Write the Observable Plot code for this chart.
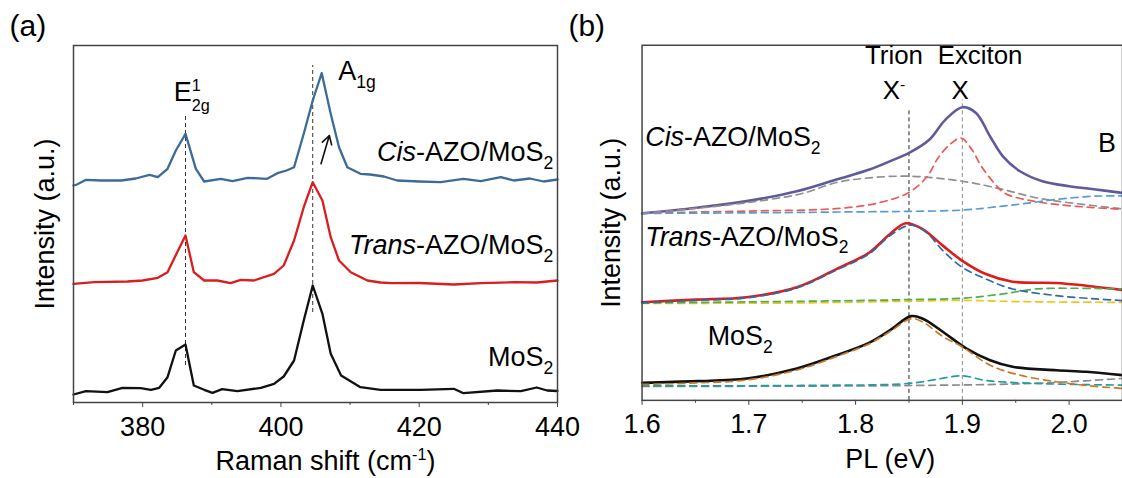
<!DOCTYPE html>
<html>
<head>
<meta charset="utf-8">
<script src="https://cdn.jsdelivr.net/npm/d3@7"></script>
<script src="https://cdn.jsdelivr.net/npm/@observablehq/plot@0.6"></script>
<style>
  html, body { margin: 0; padding: 0; background: #fff; }
  #wrap { position: relative; width: 1122px; height: 478px; overflow: hidden; background: #fff; }
  .panel { position: absolute; top: 0; }
</style>
</head>
<body>
<div id="wrap">
  <div class="panel" id="pa" style="left:0px"></div>
  <div class="panel" id="pb" style="left:560px"></div>
</div>
<script>
// ---------------- Panel (a): Raman ----------------
const ramanCisX = [370, 370.5, 371.8, 374, 376.9, 379, 381.0, 382.2, 383.6, 384.8, 386.2, 387.7, 388.9, 391.3, 393.0, 395.2, 398.0, 399.5, 400.8, 401.9, 403.3, 404.6, 405.9, 407.2, 408.4, 409.6, 411.5, 412.9, 414.9, 416.8, 420, 423.1, 426.4, 428.9, 431.8, 433.7, 436, 438, 440];
const ramanCisY = [217, 218, 222.7, 222, 222, 224, 227.7, 225.3, 233.7, 252, 268.7, 233.7, 221, 223.7, 221.3, 224.7, 223.7, 229.3, 232, 235.3, 268.7, 302, 329.3, 288.7, 255.3, 235.3, 228.7, 228, 226, 222, 221, 220.3, 223.7, 221.3, 225.3, 222, 224, 221, 223];

const ramanTransX = [370, 373, 377.8, 380, 382.2, 383.6, 385.0, 386.2, 387.4, 388.9, 390.8, 392.7, 394.2, 396.1, 399.0, 400.4, 401.9, 403.3, 404.6, 406.0, 407.2, 408.4, 410.1, 412.5, 414.4, 416, 420, 425, 428.9, 433.7, 437, 440];
const ramanTransY = [118.7, 120.3, 121, 122, 124.7, 130.3, 150.3, 167, 130.3, 122, 122, 119.3, 122.7, 122, 128.7, 137, 162, 195.3, 220.3, 202, 165.3, 142, 130.3, 122, 120, 119.3, 119.5, 118, 119.3, 120.3, 120, 122];

const ramanMoS2X = [370, 371.8, 374.9, 377.1, 379.7, 381.2, 382.4, 383.6, 384.8, 386.2, 387.4, 388.9, 390.1, 391.5, 393.7, 397.1, 399.0, 400.4, 401.9, 403.3, 404.6, 406.0, 407.2, 408.7, 411.5, 414.4, 420.2, 425.0, 426.4, 431.3, 434.7, 437, 438.5, 440];
const ramanMoS2Y = [8, 11.3, 10.3, 14.7, 14.3, 12.7, 14.7, 25.3, 52, 58, 17, 12.7, 9.7, 13.3, 11.3, 14.7, 18.7, 26, 42, 82, 117, 88.7, 48.7, 27, 15.3, 12.7, 12.7, 13.7, 9.3, 12, 11.3, 15, 12, 11.5];

const ramanGuideX = [386.2, 404.6];
const ramanGuideY1 = [37, 90];
const ramanGuideY2 = [289, 337];

const ramanSampleText = ["{i:Cis}-AZO/MoS{sub:2}", "{i:Trans}-AZO/MoS{sub:2}", "MoS{sub:2}"];
const ramanSampleX = [439.4, 439.4, 439.4];
const ramanSampleY = [250, 157, 45];

const ramanPeakText = ["E{sup:1}{bsub:2g}", "A{sub:1g}"];
const ramanPeakX = [384.5, 408.3];
const ramanPeakY = [310, 331];

const ramanArrow = {x1: 405.8, y1: 238.7, x2: 407.0, y2: 267};

const ramanMajorTicks = [380, 400, 420, 440];
const ramanMinorTicks = [370, 390, 410, 430];

// ---------------- Panel (b): PL ----------------
const plCisX = [1.6, 1.651, 1.698, 1.745, 1.782, 1.813, 1.832, 1.851, 1.869, 1.884, 1.9, 1.913, 1.926, 1.938, 1.954, 1.975, 2.0, 2.025, 2.05];
const plCisY = [188, 193.7, 200.3, 210.3, 222, 232, 240.3, 249.3, 262, 282, 294.7, 288.7, 265.3, 245.3, 230.3, 220.3, 215.3, 212, 208.5];
const plCisTrionX = [1.6, 1.65, 1.7, 1.75, 1.782, 1.813, 1.851, 1.9, 1.938, 1.969, 2.0, 2.05];
const plCisTrionY = [188, 193, 199, 208, 219, 223.7, 225.3, 220.3, 212, 203.7, 198.7, 192.5];
const plCisExcX = [1.6, 1.7, 1.785, 1.822, 1.850, 1.867, 1.878, 1.890, 1.899, 1.909, 1.918, 1.931, 1.940, 1.963, 1.988, 2.02, 2.05];
const plCisExcY = [188.5, 190.3, 193, 198.7, 209, 225, 245, 258.7, 263.7, 252, 235, 217, 208, 201, 197, 194, 192];
const plCisBX = [1.6, 1.7, 1.8, 1.85, 1.9, 1.938, 1.963, 1.988, 2.025, 2.05];
const plCisBY = [188, 188.5, 189.5, 190, 191.3, 195.3, 198.5, 202, 205.3, 205.5];

const plTransX = [1.6, 1.651, 1.698, 1.745, 1.782, 1.813, 1.832, 1.847, 1.863, 1.882, 1.9, 1.922, 1.947, 1.988, 2.016, 2.05];
const plTransY = [98.7, 101.3, 103.7, 113.7, 132, 148.7, 167, 178, 172, 155.3, 140.3, 127, 119.3, 118, 115.3, 111];
const plTransTrionX = [1.6, 1.651, 1.698, 1.745, 1.782, 1.813, 1.832, 1.851, 1.865, 1.882, 1.9, 1.922, 1.947, 1.988, 2.025, 2.05];
const plTransTrionY = [98, 100.5, 103, 113, 131, 147.5, 165.5, 176, 170, 150.3, 133.7, 122, 112, 105.3, 102, 100.3];
const plTransBX = [1.6, 1.7, 1.8, 1.851, 1.9, 1.938, 1.969, 2.006, 2.05];
const plTransBY = [98, 99, 100.3, 101.3, 102.7, 107, 112, 112.7, 112];
const plTransExcX = [1.6, 1.75, 1.85, 1.9, 1.95, 2.05];
const plTransExcY = [97.5, 98, 99.7, 100.5, 99.3, 98.5];

const plMoS2X = [1.6, 1.651, 1.698, 1.745, 1.782, 1.813, 1.832, 1.852, 1.863, 1.882, 1.904, 1.926, 1.947, 1.988, 2.016, 2.05];
const plMoS2Y = [17.7, 19.3, 22, 32, 45.3, 58, 70.3, 84.7, 82, 68.7, 52, 40.3, 33.7, 30.3, 28.7, 25.3];
const plMoS2TrionX = [1.6, 1.651, 1.698, 1.745, 1.782, 1.813, 1.832, 1.852, 1.863, 1.882, 1.9, 1.926, 1.954, 1.988, 2.02, 2.05];
const plMoS2TrionY = [16, 17.5, 20.5, 30.5, 44, 57, 69, 82, 78.7, 64, 53.7, 35.3, 25.3, 18.7, 14.5, 12];
const plMoS2ExcX = [1.6, 1.75, 1.85, 1.875, 1.9, 1.922, 1.969, 2.05];
const plMoS2ExcY = [14.5, 15, 17, 21, 24.7, 20, 17, 15.3];
const plMoS2BX = [1.6, 1.8, 1.9, 1.95, 1.988, 2.05];
const plMoS2BY = [14, 14.5, 15.5, 16.5, 18, 22];

const plGuideX = [1.85, 1.9];
const plGuideY2 = [292, 302];

const plSampleText = ["{i:Cis}-AZO/MoS{sub:2}", "{i:Trans}-AZO/MoS{sub:2}", "MoS{sub:2}", "B"];
const plSampleX = [1.603, 1.603, 1.6615, 2.027];
const plSampleY = [264, 164, 64, 258];

const plPeakText = ["Trion", "Exciton", "X{sup:-}", "X"];
const plPeakX = [1.836, 1.9166, 1.8255, 1.898];
const plPeakY = [346, 346, 311, 311];

const plMajorTicks = [1.6, 1.7, 1.8, 1.9, 2.0];
const plMinorTicks = [1.65, 1.75, 1.85, 1.95];

// ---------------- helpers ----------------
const FONT = "'Liberation Sans', Arial, Helvetica, sans-serif";
const FS = 27;
const zipXY = (xs, ys) => xs.map((x, i) => ({x, y: ys[i]}));
const zipLabels = (ts, xs, ys) => ts.map((t, i) => ({t, x: xs[i], y: ys[i]}));

// markup: {i:..} italic, {sub:..} subscript, {sup:..} superscript,
// {bsub:..} subscript stacked under the preceding superscript
function richify(svg) {
  d3.select(svg).selectAll("text").each(function () {
    const s = this.textContent;
    if (s.indexOf("{") < 0) return;
    const el = d3.select(this);
    el.text(null);
    const re = /\{(i|sub|sup|bsub):([^}]*)\}|([^{]+)/g;
    let m, cur = 0;
    while ((m = re.exec(s))) {
      const kind = m[1] || "n";
      const str = m[1] ? m[2] : m[3];
      const scale = kind === "sub" ? 0.65 : (kind === "sup" || kind === "bsub") ? 0.6 : 1;
      const target = kind === "sub" ? 0.28 : kind === "bsub" ? 0.36 : kind === "sup" ? -0.36 : 0;
      const ts = el.append("tspan").text(str);
      if (scale !== 1) ts.attr("font-size", Math.round(scale * 100) + "%");
      if (kind === "i") ts.attr("font-style", "italic");
      const dy = (target - cur) / scale;
      if (dy) ts.attr("dy", dy.toFixed(3) + "em");
      if (kind === "bsub") ts.attr("dx", "-0.556em");
      cur = target;
    }
  });
  return svg;
}

const baseStyle = {fontFamily: FONT, fontSize: FS + "px", color: "black", background: "transparent", overflow: "visible"};

// ---------------- build (a) ----------------
const guidesA = ramanGuideX.map((x, i) => ({x, y1: ramanGuideY1[i], y2: ramanGuideY2[i]}));
const plotA = Plot.plot({
  width: 560, height: 478,
  marginLeft: 73, marginRight: 3, marginTop: 45, marginBottom: 76,
  style: baseStyle,
  x: {domain: [370, 440]},
  y: {domain: [0, 357], axis: null},
  marks: [
    Plot.ruleX(guidesA, {x: "x", y1: "y1", y2: "y2", stroke: "#333", strokeWidth: 1, strokeDasharray: "4,3"}),
    Plot.line(zipXY(ramanMoS2X, ramanMoS2Y), {x: "x", y: "y", stroke: "#111", strokeWidth: 2.3}),
    Plot.line(zipXY(ramanTransX, ramanTransY), {x: "x", y: "y", stroke: "#d81e1e", strokeWidth: 2.3}),
    Plot.line(zipXY(ramanCisX, ramanCisY), {x: "x", y: "y", stroke: "#3d6b99", strokeWidth: 2.3}),
    Plot.arrow([ramanArrow], {x1: "x1", y1: "y1", x2: "x2", y2: "y2", stroke: "#111", strokeWidth: 1.6, headLength: 9, bend: 0}),
    Plot.frame({stroke: "#444", strokeWidth: 1.5}),
    Plot.axisX(ramanMajorTicks, {tickSize: 5, tickPadding: 9, fontSize: FS, stroke: "#444", fill: "black", label: null}),
    Plot.axisX(ramanMinorTicks, {tickSize: 3, tickFormat: () => "", stroke: "#444", label: null}),
    Plot.text(zipLabels(ramanSampleText, ramanSampleX, ramanSampleY), {x: "x", y: "y", text: "t", textAnchor: "end", lineAnchor: "middle", fontSize: FS, fill: "black"}),
    Plot.text(zipLabels(ramanPeakText, ramanPeakX, ramanPeakY), {x: "x", y: "y", text: "t", textAnchor: "start", lineAnchor: "middle", fontSize: FS, fill: "black"}),
    Plot.text(["Raman shift (cm{sup:-1})"], {frameAnchor: "bottom", dy: 59, dx: 10, textAnchor: "middle", lineAnchor: "middle", fontSize: FS, fill: "black"}),
    Plot.text(["Intensity (a.u.)"], {frameAnchor: "left", rotate: -90, dx: -28, textAnchor: "middle", lineAnchor: "middle", fontSize: FS, fill: "black"}),
    Plot.text(["(a)"], {frameAnchor: "top-left", dx: -64, dy: -19, textAnchor: "start", lineAnchor: "middle", fontSize: 30, fill: "black"})
  ]
});
document.getElementById("pa").appendChild(richify(plotA));

// ---------------- build (b) ----------------
const dashW = 1.7, dashA = "7,5";
const guidesB = plGuideX.map((x, i) => ({x, y2: plGuideY2[i]}));
const plotB = Plot.plot({
  width: 565, height: 478,
  marginLeft: 82, marginRight: 0, marginTop: 45, marginBottom: 76,
  style: baseStyle,
  x: {domain: [1.6, 2.05]},
  y: {domain: [0, 357], axis: null},
  marks: [
    Plot.ruleX(guidesB.slice(0, 1), {x: "x", y1: 0, y2: "y2", stroke: "#222", strokeWidth: 1, strokeDasharray: "4,3"}),
    Plot.ruleX(guidesB.slice(1), {x: "x", y1: 0, y2: "y2", stroke: "#8a8a8a", strokeWidth: 1, strokeDasharray: "4,3"}),
    Plot.line(zipXY(plCisX, plCisY), {x: "x", y: "y", stroke: "#5e5a9c", strokeWidth: 2.6, curve: "catmull-rom"}),
    Plot.line(zipXY(plTransX, plTransY), {x: "x", y: "y", stroke: "#e01b1b", strokeWidth: 2.6, curve: "catmull-rom"}),
    Plot.line(zipXY(plMoS2X, plMoS2Y), {x: "x", y: "y", stroke: "#111", strokeWidth: 2.6, curve: "catmull-rom"}),
    Plot.line(zipXY(plCisTrionX, plCisTrionY), {x: "x", y: "y", stroke: "#8f8f8f", strokeWidth: dashW, strokeDasharray: dashA, curve: "catmull-rom"}),
    Plot.line(zipXY(plCisExcX, plCisExcY), {x: "x", y: "y", stroke: "#ea5a5a", strokeWidth: dashW, strokeDasharray: dashA, curve: "catmull-rom"}),
    Plot.line(zipXY(plCisBX, plCisBY), {x: "x", y: "y", stroke: "#5b9bd5", strokeWidth: dashW, strokeDasharray: dashA, curve: "catmull-rom"}),
    Plot.line(zipXY(plTransExcX, plTransExcY), {x: "x", y: "y", stroke: "#f2c318", strokeWidth: dashW, strokeDasharray: dashA, curve: "catmull-rom"}),
    Plot.line(zipXY(plTransBX, plTransBY), {x: "x", y: "y", stroke: "#4caf50", strokeWidth: dashW, strokeDasharray: dashA, curve: "catmull-rom"}),
    Plot.line(zipXY(plTransTrionX, plTransTrionY), {x: "x", y: "y", stroke: "#2f6aa6", strokeWidth: dashW, strokeDasharray: dashA, curve: "catmull-rom"}),
    Plot.line(zipXY(plMoS2BX, plMoS2BY), {x: "x", y: "y", stroke: "#8a8a8a", strokeWidth: dashW, strokeDasharray: dashA, curve: "catmull-rom"}),
    Plot.line(zipXY(plMoS2ExcX, plMoS2ExcY), {x: "x", y: "y", stroke: "#1f9e9e", strokeWidth: dashW, strokeDasharray: dashA, curve: "catmull-rom"}),
    Plot.line(zipXY(plMoS2TrionX, plMoS2TrionY), {x: "x", y: "y", stroke: "#c9772a", strokeWidth: dashW, strokeDasharray: dashA, curve: "catmull-rom"}),
    Plot.frame({stroke: "#444", strokeWidth: 1.5}),
    Plot.axisX(plMajorTicks, {tickSize: 5, tickPadding: 9, fontSize: FS, stroke: "#444", fill: "black", label: null, tickFormat: d3.format(".1f")}),
    Plot.axisX(plMinorTicks, {tickSize: 3, tickFormat: () => "", stroke: "#444", label: null}),
    Plot.text(zipLabels(plSampleText, plSampleX, plSampleY), {x: "x", y: "y", text: "t", textAnchor: "start", lineAnchor: "middle", fontSize: FS, fill: "black"}),
    Plot.text(zipLabels(plPeakText.slice(0, 2), plPeakX.slice(0, 2), plPeakY.slice(0, 2)), {x: "x", y: "y", text: "t", textAnchor: "middle", lineAnchor: "middle", fontSize: 26, fill: "black"}),
    Plot.text(zipLabels(plPeakText.slice(2, 3), plPeakX.slice(2, 3), plPeakY.slice(2, 3)), {x: "x", y: "y", text: "t", textAnchor: "start", lineAnchor: "middle", fontSize: 26, fill: "black"}),
    Plot.text(zipLabels(plPeakText.slice(3), plPeakX.slice(3), plPeakY.slice(3)), {x: "x", y: "y", text: "t", textAnchor: "middle", lineAnchor: "middle", fontSize: 26, fill: "black"}),
    Plot.text(["PL (eV)"], {frameAnchor: "bottom", dy: 59, dx: 8, textAnchor: "middle", lineAnchor: "middle", fontSize: FS, fill: "black"}),
    Plot.text(["Intensity (a.u.)"], {frameAnchor: "left", rotate: -90, dx: -31, textAnchor: "middle", lineAnchor: "middle", fontSize: FS, fill: "black"}),
    Plot.text(["(b)"], {frameAnchor: "top-left", dx: -74, dy: -19, textAnchor: "start", lineAnchor: "middle", fontSize: 30, fill: "black"})
  ]
});
document.getElementById("pb").appendChild(richify(plotB));
</script>
</body>
</html>
